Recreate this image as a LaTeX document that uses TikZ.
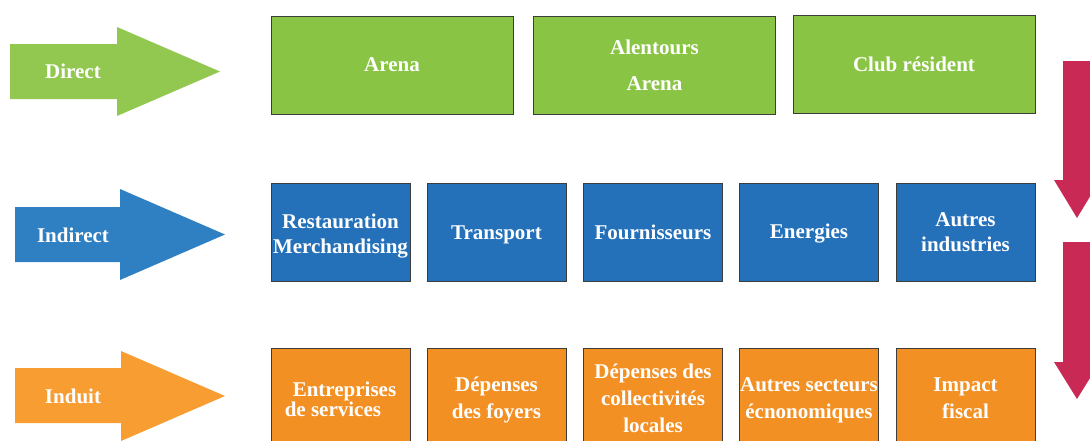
\documentclass[tikz,border=0pt]{standalone}
\usepackage{fontspec}
\setmainfont{Liberation Serif}
\definecolor{gbox}{HTML}{8AC444}
\definecolor{garrow}{HTML}{92C850}
\definecolor{bbox}{HTML}{2471B9}
\definecolor{barrow}{HTML}{2F7FC3}
\definecolor{obox}{HTML}{F39024}
\definecolor{oarrow}{HTML}{F79D31}
\definecolor{rarrow}{HTML}{C92A55}
\definecolor{edge}{HTML}{3C3C3C}
\begin{document}
\begin{tikzpicture}[x=1pt,y=-1pt,
  lbl/.style={text=white,font=\fontsize{21}{25}\selectfont\bfseries,align=center,inner sep=0pt},
  olbl/.style={lbl,font=\fontsize{21}{27}\selectfont\bfseries},
  box/.style={draw=edge,line width=0.8pt,minimum height=98pt,inner sep=0pt},
  wbox/.style={box,minimum width=242pt},
  nbox/.style={box,minimum width=139pt},
  gb/.style={fill=gbox}, bb/.style={fill=bbox}, ob/.style={fill=obox}]
\useasboundingbox (0,0) rectangle (1090,440);
\clip (0,0) rectangle (1090,440);
% left arrows
\fill[garrow] (10,44)--(117,44)--(117,27)--(220,71.5)--(117,116)--(117,99)--(10,99)--cycle;
\fill[barrow] (15,207)--(120,207)--(120,189)--(225,234.5)--(120,280)--(120,262)--(15,262)--cycle;
\fill[oarrow] (15,368)--(121,368)--(121,351)--(225,396)--(121,441)--(121,423)--(15,423)--cycle;
\node[lbl] (direct) at (73,71) {Direct};
\node[lbl] (indirect) at (73,235) {Indirect};
\node[lbl] (induit) at (73,396) {Induit};
% row 1
\node[wbox,gb] (arena) at (392,65) {};
\node[lbl] (tarena) at (392,65) {Arena};
\node[wbox,gb] (alentours) at (654.5,65) {};
\node[lbl] (talentours) at (654.5,65) {Alentours\\[11pt]Arena};
\node[wbox,gb] (club) at (914,64) {};
\node[lbl] (tclub) at (914,64) {Club résident};
% row 2
\node[nbox,bb] (resto) at (340.5,232) {};
\node[lbl] (tresto) at (340.5,236) {Restauration\\Merchandising};
\node[nbox,bb] (transport) at (496.5,232) {};
\node[lbl] (ttransport) at (496.5,235) {Transport};
\node[nbox,bb] (fourn) at (653,232) {};
\node[lbl] (tfourn) at (653,232) {Fournisseurs};
\node[nbox,bb] (energ) at (809,232) {};
\node[lbl] (tenerg) at (809,234) {Energies};
\node[nbox,bb] (autres) at (965.5,232) {};
\node[lbl] (tautres) at (965.5,232) {Autres\\industries};
% row 3
\node[nbox,ob] (entr) at (340.5,397) {};
\node[lbl,align=left] (tentr) at (340.5,399) {\hspace*{8pt}Entreprises\\[-5pt]de services};
\node[nbox,ob] (foyers) at (496.5,397) {};
\node[olbl] (tfoyers) at (496.5,400) {Dépenses\\des foyers};
\node[nbox,ob] (collect) at (653,397) {};
\node[olbl] (tcollect) at (653,398) {Dépenses des\\collectivités\\locales};
\node[nbox,ob] (secteurs) at (809,397) {};
\node[olbl] (tsecteurs) at (809,400) {Autres secteurs\\écnonomiques};
\node[nbox,ob] (fiscal) at (965.5,397) {};
\node[olbl] (tfiscal) at (965.5,398.5) {Impact\\fiscal};
% right arrows
\fill[rarrow] (1063,61)--(1091,61)--(1091,180)--(1100,180)--(1077,218)--(1054,180)--(1063,180)--cycle;
\fill[rarrow] (1063,242)--(1091,242)--(1091,362)--(1100,362)--(1077,399)--(1054,362)--(1063,362)--cycle;
\end{tikzpicture}
\end{document}
